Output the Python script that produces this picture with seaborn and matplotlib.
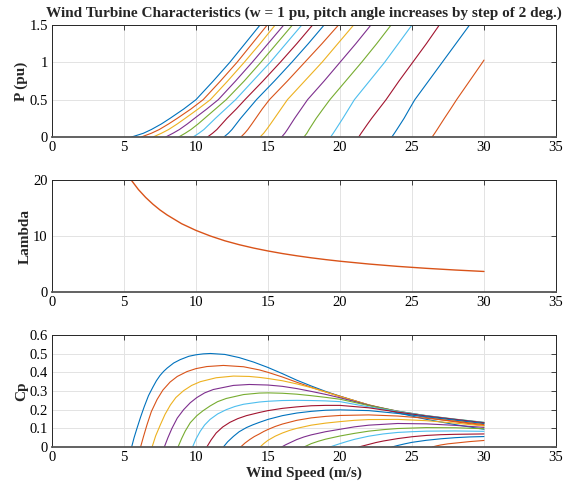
import matplotlib
matplotlib.use("Agg")
import matplotlib.pyplot as plt
import numpy as np
import pandas as pd
import seaborn as sns

# ---------------- data ----------------
PITCH_DEG = list(range(0, 32, 2))          # 16 curves, pitch 0..30 deg
X_TICKS = [0, 5, 10, 15, 20, 25, 30, 35]

# Panel 1: wind speed (m/s) at which each curve reaches the P levels
P_LEVELS = [0, 0.05, 0.1, 0.175, 0.25, 0.375, 0.5, 0.75, 1.0, 1.25, 1.5]
P_SPEEDS = [
    [5.53, 6.35, 6.9, 7.6, 8.2, 9.15, 10.0, 11.2, 12.35, 13.4, 14.45],
    [6.2, 6.9, 7.45, 8.1, 8.7, 9.65, 10.5, 11.7, 12.85, 13.9, 14.95],
    [7.02, 7.6, 8.1, 8.7, 9.25, 10.15, 11.0, 12.2, 13.35, 14.45, 15.5],
    [7.9, 8.4, 8.85, 9.4, 9.9, 10.75, 11.55, 12.75, 13.9, 15.0, 16.1],
    [8.8, 9.25, 9.65, 10.15, 10.6, 11.35, 12.1, 13.35, 14.5, 15.6, 16.7],
    [9.8, 10.2, 10.55, 10.95, 11.35, 12.05, 12.75, 13.95, 15.15, 16.25, 17.35],
    [10.8, 11.15, 11.45, 11.8, 12.15, 12.8, 13.4, 14.65, 15.85, 17.0, 18.1],
    [11.94, 12.25, 12.5, 12.8, 13.1, 13.65, 14.2, 15.45, 16.65, 17.8, 18.9],
    [13.12, 13.38, 13.6, 13.88, 14.15, 14.6, 15.1, 16.35, 17.55, 18.75, 19.9],
    [14.45, 14.7, 14.9, 15.18, 15.45, 15.9, 16.35, 17.55, 18.75, 19.85, 20.95],
    [15.95, 16.17, 16.35, 16.6, 16.85, 17.3, 17.75, 18.9, 20.0, 21.1, 22.15],
    [17.5, 17.7, 17.85, 18.1, 18.35, 18.82, 19.3, 20.4, 21.5, 22.55, 23.55],
    [19.35, 19.53, 19.7, 19.95, 20.2, 20.6, 21.0, 22.05, 23.1, 24.05, 25.0],
    [21.3, 21.47, 21.65, 21.92, 22.2, 22.7, 23.2, 24.1, 25.05, 26.0, 26.9],
    [23.6, 23.78, 23.95, 24.2, 24.45, 24.82, 25.2, 26.15, 27.1, 28.05, 29.0],
    [26.4, 26.58, 26.75, 27.0, 27.25, 27.68, 28.1, 29.0, 29.9, 30.0],
]
P_LAST_VALUES = [0, 0.05, 0.1, 0.175, 0.25, 0.375, 0.5, 0.75, 1.0, 1.03]

# Panel 2: tip speed ratio vs wind speed
LAMBDA_SPEED = [5.5, 6, 6.5, 7, 7.5, 8, 9, 10, 11, 12, 13, 14, 15, 16, 17,
                18, 19, 20, 22, 24, 26, 28, 30]
LAMBDA_VALUE = [20, 18.3, 16.9, 15.7, 14.65, 13.75, 12.2, 11.0, 10.0, 9.15,
                8.45, 7.85, 7.33, 6.87, 6.47, 6.11, 5.79, 5.5, 5.0, 4.58,
                4.23, 3.93, 3.67]

# Panel 3: Cp curves (speed list, Cp list) for each pitch angle
CP_SPEEDS = [
    [5.53, 5.7, 5.9, 6.15, 6.4, 6.7, 7.0, 7.25, 7.5, 7.75, 8.0, 8.45, 8.9,
     9.5, 10.0, 10.5, 11.0, 12.0, 13.0, 14.0, 15.0, 16.0, 17.0, 18.0, 19.0,
     20.0, 22.0, 24.0, 26.0, 28.0, 30.0],
    [6.15, 6.35, 6.6, 6.9, 7.3, 7.7, 8.2, 8.7, 9.37, 10.0, 10.75, 11.9, 13.3,
     14.4, 15, 16, 17, 18, 19, 20, 22, 24, 26, 28, 30],
    [6.95, 7.2, 7.53, 7.85, 8.22, 8.6, 9.14, 9.7, 10.3, 11.4, 12.6, 13.7,
     14.4, 15, 16, 17, 18, 19, 20, 22, 24, 26, 28, 30],
    [7.8, 8.05, 8.33, 8.7, 9.14, 9.6, 10.06, 10.6, 11.2, 12.6, 13.7, 15, 16,
     17, 18, 19, 20, 22, 24, 26, 28, 30],
    [8.75, 9.0, 9.25, 9.6, 10.06, 10.5, 10.98, 11.5, 12.1, 13.3, 14.4, 15,
     16, 17, 18, 19, 20, 22, 24, 26, 28, 30],
    [9.76, 10.0, 10.3, 10.6, 10.98, 11.5, 12.1, 12.7, 13.3, 14.4, 15, 16, 17,
     18, 19, 20, 22, 24, 26, 28, 30],
    [10.75, 11.05, 11.4, 11.85, 12.35, 12.9, 13.5, 14.4, 15, 16, 17, 18, 19,
     20, 22, 24, 26, 28, 30],
    [11.9, 12.2, 12.6, 13.0, 13.5, 13.95, 14.4, 15, 16, 17, 18, 19, 20, 22,
     24, 26, 28, 30],
    [13.1, 13.4, 13.73, 14.05, 14.4, 14.7, 15, 15.5, 16, 17, 18, 19, 20, 22,
     24, 26, 28, 30],
    [14.45, 14.7, 15, 15.5, 16, 16.5, 17, 18, 19, 20, 21, 22, 24, 26, 28, 30],
    [15.95, 16.2, 16.5, 17, 17.5, 18, 19, 20, 21, 22, 24, 26, 28, 30],
    [17.5, 17.75, 18, 18.5, 19, 20, 21, 22, 23, 24, 26, 28, 30],
    [19.3, 19.6, 20, 20.5, 21, 22, 23, 24, 25, 26, 28, 30],
    [21.3, 21.6, 22, 22.5, 23, 24, 25, 26, 27, 28, 30],
    [23.6, 24, 24.5, 25, 26, 27, 28, 29, 30],
    [26.4, 26.7, 27, 27.5, 28, 29, 30],
]
CP_VALUES = [
    [0, 0.05, 0.1, 0.16, 0.215, 0.275, 0.32, 0.355, 0.383, 0.405, 0.423,
     0.45, 0.468, 0.486, 0.494, 0.499, 0.501, 0.496, 0.479, 0.455, 0.426,
     0.393, 0.358, 0.327, 0.298, 0.272, 0.225, 0.183, 0.148, 0.12, 0.095],
    [0, 0.055, 0.12, 0.19, 0.255, 0.305, 0.348, 0.378, 0.404, 0.42, 0.431,
     0.437, 0.43, 0.413, 0.4, 0.375, 0.347, 0.32, 0.295, 0.272, 0.225, 0.187,
     0.158, 0.135, 0.115],
    [0, 0.06, 0.12, 0.175, 0.225, 0.265, 0.302, 0.33, 0.35, 0.371, 0.38,
     0.378, 0.373, 0.367, 0.355, 0.338, 0.318, 0.295, 0.27, 0.226, 0.19,
     0.163, 0.143, 0.125],
    [0, 0.05, 0.1, 0.155, 0.2, 0.237, 0.265, 0.29, 0.308, 0.33, 0.335, 0.332,
     0.325, 0.313, 0.298, 0.282, 0.264, 0.224, 0.192, 0.167, 0.147, 0.13],
    [0, 0.045, 0.085, 0.13, 0.168, 0.195, 0.22, 0.243, 0.26, 0.281, 0.289,
     0.29, 0.288, 0.283, 0.275, 0.266, 0.256, 0.222, 0.192, 0.168, 0.149,
     0.132],
    [0, 0.043, 0.085, 0.118, 0.148, 0.177, 0.2, 0.217, 0.229, 0.241, 0.245,
     0.249, 0.25, 0.249, 0.247, 0.243, 0.215, 0.19, 0.168, 0.149, 0.132],
    [0, 0.038, 0.075, 0.107, 0.132, 0.152, 0.168, 0.185, 0.195, 0.207, 0.215,
     0.221, 0.223, 0.223, 0.21, 0.187, 0.166, 0.148, 0.13],
    [0, 0.028, 0.057, 0.082, 0.104, 0.119, 0.132, 0.148, 0.168, 0.182, 0.191,
     0.197, 0.199, 0.195, 0.18, 0.162, 0.144, 0.126],
    [0, 0.021, 0.04, 0.056, 0.07, 0.083, 0.094, 0.11, 0.123, 0.143, 0.156,
     0.164, 0.169, 0.172, 0.166, 0.154, 0.138, 0.12],
    [0, 0.018, 0.036, 0.058, 0.075, 0.089, 0.1, 0.117, 0.128, 0.136, 0.143,
     0.147, 0.148, 0.141, 0.128, 0.113],
    [0, 0.011, 0.022, 0.04, 0.054, 0.065, 0.082, 0.095, 0.108, 0.117, 0.126,
     0.124, 0.116, 0.105],
    [0, 0.009, 0.018, 0.031, 0.042, 0.059, 0.073, 0.085, 0.093, 0.099, 0.104,
     0.103, 0.098],
    [0, 0.008, 0.018, 0.03, 0.041, 0.058, 0.07, 0.078, 0.082, 0.085, 0.086,
     0.084],
    [0, 0.006, 0.014, 0.024, 0.032, 0.045, 0.055, 0.062, 0.066, 0.068, 0.07],
    [0, 0.008, 0.017, 0.025, 0.036, 0.044, 0.05, 0.054, 0.056],
    [0, 0.006, 0.011, 0.017, 0.021, 0.029, 0.035],
]

MATLAB_COLORS = ["#0072BD", "#D95319", "#EDB120", "#7E2F8E", "#77AC30",
                 "#4DBEEE", "#A2142F"]

# ---------------- build tables ----------------
rows_p, rows_cp = [], []
for i, beta in enumerate(PITCH_DEG):
    pv = P_LAST_VALUES if i == len(PITCH_DEG) - 1 else P_LEVELS
    for v, p in zip(P_SPEEDS[i], pv):
        rows_p.append((beta, v, p))
    for v, c in zip(CP_SPEEDS[i], CP_VALUES[i]):
        rows_cp.append((beta, v, c))
df_p = pd.DataFrame(rows_p, columns=["pitch", "speed", "P"])
df_cp = pd.DataFrame(rows_cp, columns=["pitch", "speed", "Cp"])
df_l = pd.DataFrame({"speed": LAMBDA_SPEED, "lam": LAMBDA_VALUE})

palette = {b: MATLAB_COLORS[i % 7] for i, b in enumerate(PITCH_DEG)}

# ---------------- style ----------------
sns.set_theme(style="white")
plt.rcParams["font.family"] = ["Liberation Serif", "DejaVu Serif"]
plt.rcParams["axes.edgecolor"] = "#262626"
plt.rcParams["axes.linewidth"] = 0.7

fig = plt.figure(figsize=(5.85, 4.88), dpi=100)
fig.patch.set_facecolor("white")
L, W, H = 0.0889, 0.8615, 0.2295
ax1 = fig.add_axes([L, 0.7193, W, H])
ax2 = fig.add_axes([L, 0.4016, W, H])
ax3 = fig.add_axes([L, 0.0840, W, H])

LW = 0.8
sns.lineplot(data=df_p, x="speed", y="P", hue="pitch", palette=palette,
             estimator=None, sort=False, legend=False, lw=LW, ax=ax1)
sns.lineplot(data=df_l, x="speed", y="lam", color="#D95319",
             estimator=None, sort=False, legend=False, lw=1.0, ax=ax2)
sns.lineplot(data=df_cp, x="speed", y="Cp", hue="pitch", palette=palette,
             estimator=None, sort=False, legend=False, lw=LW, ax=ax3)

def style(ax, yticks, ylabels, ylim, ylabel):
    ax.set_xlim(0, 35)
    ax.set_ylim(*ylim)
    ax.set_xticks(X_TICKS)
    ax.set_xticklabels([str(t) for t in X_TICKS])
    ax.set_yticks(yticks)
    ax.set_yticklabels(ylabels)
    ax.grid(True, color="#e3e3e3", lw=0.7)
    ax.set_axisbelow(True)
    ax.tick_params(direction="in", top=True, right=True, length=3.5,
                   width=0.6, labelsize=10.5, pad=3, colors="#262626",
                   labelcolor="black")
    ax.set_xlabel("")
    ax.set_ylabel(ylabel, fontsize=11, fontweight="bold", labelpad=1)
    for s in ax.spines.values():
        s.set_visible(True)
        s.set_color("#262626")
        s.set_linewidth(0.7)
    ax.spines["bottom"].set_linewidth(1.3)
    ax.spines["bottom"].set_color("#555555")

style(ax1, [0, 0.5, 1, 1.5], ["0", "0.5", "1", "1.5"], (0, 1.5), "P (pu)")
style(ax2, [0, 10, 20], ["0", "10", "20"], (0, 20), "Lambda")
style(ax3, [0, 0.1, 0.2, 0.3, 0.4, 0.5, 0.6],
      ["0", "0.1", "0.2", "0.3", "0.4", "0.5", "0.6"], (0, 0.6), "Cp")

ax1.set_title("Wind Turbine Characteristics (w = 1 pu, pitch angle increases "
              "by step of 2 deg.)", fontsize=11, fontweight="bold", pad=6)
ax3.set_xlabel("Wind Speed (m/s)", fontsize=11, fontweight="bold", labelpad=2)

fig.savefig("out.png", dpi=100, facecolor="white")
